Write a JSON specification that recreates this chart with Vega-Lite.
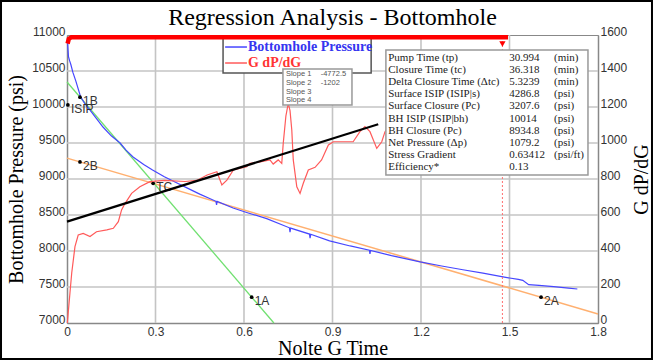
{
  "$schema": "https://vega.github.io/schema/vega-lite/v6.json",
  "width": 531,
  "height": 288,
  "autosize": "none",
  "padding": {"left": 67, "top": 35, "right": 57, "bottom": 38},
  "background": "white",
  "title": {"text": "Regression Analysis - Bottomhole", "font": "Liberation Serif", "fontSize": 24, "fontWeight": "normal", "color": "#000", "anchor": "middle", "frame": "group", "offset": 0, "dy": 30},
  "config": {
    "view": {"stroke": "#888", "strokeWidth": 1},
    "axis": {"labelFont": "Liberation Sans", "labelFontSize": 12, "labelColor": "#333", "titleFont": "Liberation Serif", "titleFontSize": 20, "titleFontWeight": "normal", "titleColor": "#000", "domainColor": "#888", "domainWidth": 1.5, "tickSize": 0, "labelOverlap": false, "labelFlush": false}
  },
  "datasets": {
    "one": [{}],
    "bh": [
      {"G": 0.002, "P": 10890}, {"G": 0.005, "P": 10700}, {"G": 0.009, "P": 10640}, {"G": 0.013, "P": 10590}, {"G": 0.02, "P": 10480}, {"G": 0.03, "P": 10360}, {"G": 0.046, "P": 10143}, {"G": 0.06, "P": 10050}, {"G": 0.078, "P": 9958}, {"G": 0.1, "P": 9840}, {"G": 0.122, "P": 9722}, {"G": 0.15, "P": 9600}, {"G": 0.18, "P": 9500}, {"G": 0.2, "P": 9400}, {"G": 0.224, "P": 9305}, {"G": 0.26, "P": 9200}, {"G": 0.29, "P": 9125}, {"G": 0.33, "P": 9030}, {"G": 0.373, "P": 8944}, {"G": 0.41, "P": 8870}, {"G": 0.45, "P": 8790}, {"G": 0.505, "P": 8690}, {"G": 0.507, "P": 8640}, {"G": 0.509, "P": 8688}, {"G": 0.563, "P": 8597}, {"G": 0.609, "P": 8535}, {"G": 0.677, "P": 8450}, {"G": 0.754, "P": 8322}, {"G": 0.756, "P": 8262}, {"G": 0.758, "P": 8318}, {"G": 0.822, "P": 8235}, {"G": 0.824, "P": 8180}, {"G": 0.826, "P": 8232}, {"G": 0.89, "P": 8140}, {"G": 0.96, "P": 8070}, {"G": 1.025, "P": 8012}, {"G": 1.027, "P": 7960}, {"G": 1.029, "P": 8008}, {"G": 1.1, "P": 7935}, {"G": 1.197, "P": 7850}, {"G": 1.27, "P": 7792}, {"G": 1.342, "P": 7740}, {"G": 1.41, "P": 7692}, {"G": 1.478, "P": 7640}, {"G": 1.53, "P": 7605}, {"G": 1.545, "P": 7592}, {"G": 1.565, "P": 7532}, {"G": 1.6, "P": 7522}, {"G": 1.65, "P": 7505}, {"G": 1.7, "P": 7485}, {"G": 1.73, "P": 7472}
    ],
    "gdp": [
      {"G": 0.001, "V": 0}, {"G": 0.004, "V": 55}, {"G": 0.01, "V": 167}, {"G": 0.016, "V": 278}, {"G": 0.027, "V": 424}, {"G": 0.038, "V": 489}, {"G": 0.055, "V": 498}, {"G": 0.078, "V": 480}, {"G": 0.1, "V": 507}, {"G": 0.135, "V": 517}, {"G": 0.157, "V": 526}, {"G": 0.174, "V": 563}, {"G": 0.185, "V": 628}, {"G": 0.197, "V": 665}, {"G": 0.219, "V": 720}, {"G": 0.247, "V": 757}, {"G": 0.281, "V": 785}, {"G": 0.33, "V": 792}, {"G": 0.4, "V": 786}, {"G": 0.44, "V": 792}, {"G": 0.475, "V": 822}, {"G": 0.508, "V": 840}, {"G": 0.525, "V": 767}, {"G": 0.542, "V": 794}, {"G": 0.564, "V": 850}, {"G": 0.609, "V": 868}, {"G": 0.62, "V": 887}, {"G": 0.655, "V": 895}, {"G": 0.688, "V": 906}, {"G": 0.699, "V": 883}, {"G": 0.716, "V": 906}, {"G": 0.728, "V": 887}, {"G": 0.733, "V": 998}, {"G": 0.742, "V": 1150}, {"G": 0.75, "V": 1220}, {"G": 0.756, "V": 1180}, {"G": 0.762, "V": 1072}, {"G": 0.767, "V": 906}, {"G": 0.779, "V": 757}, {"G": 0.79, "V": 720}, {"G": 0.801, "V": 776}, {"G": 0.818, "V": 850}, {"G": 0.841, "V": 865}, {"G": 0.863, "V": 906}, {"G": 0.886, "V": 989}, {"G": 0.903, "V": 1007}, {"G": 0.948, "V": 1007}, {"G": 0.97, "V": 1007}, {"G": 0.993, "V": 1063}, {"G": 1.01, "V": 1091}, {"G": 1.027, "V": 1063}, {"G": 1.05, "V": 970}, {"G": 1.067, "V": 1007}, {"G": 1.078, "V": 1063}, {"G": 1.1, "V": 1110}, {"G": 1.15, "V": 1130}, {"G": 1.2, "V": 1120}
    ],
    "orange": [{"G": 0, "P": 9290}, {"G": 1.8, "P": 7126}],
    "green": [{"G": 0, "P": 10347}, {"G": 0.7013, "P": 7000}],
    "black": [{"G": 0, "V": 563}, {"G": 1.055, "V": 1104}],
    "pts": [
      {"G": 0.044, "P": 10137, "label": "1B"}, {"G": 0.003, "P": 10028, "label": "ISIP"}, {"G": 0.044, "P": 9237, "label": "2B"}, {"G": 0.292, "P": 8940, "label": "TC"}, {"G": 0.626, "P": 7359, "label": "1A"}, {"G": 1.607, "P": 7359, "label": "2A"}
    ],
    "band": [{"G": 0.002, "P": 10880}, {"G": 0.006, "P": 10945}, {"G": 0.015, "P": 10970}, {"G": 1.495, "P": 10970}],
    "table": [
      {"row": 0, "label": "Pump Time (tp)", "value": "30.994", "unit": "(min)"},
      {"row": 1, "label": "Closure Time (tc)", "value": "36.318", "unit": "(min)"},
      {"row": 2, "label": "Delta Closure Time (Δtc)", "value": "5.3239", "unit": "(min)"},
      {"row": 3, "label": "Surface ISIP (ISIP|s)", "value": "4286.8", "unit": "(psi)"},
      {"row": 4, "label": "Surface Closure (Pc)", "value": "3207.6", "unit": "(psi)"},
      {"row": 5, "label": "BH ISIP (ISIP|bh)", "value": "10014", "unit": "(psi)"},
      {"row": 6, "label": "BH Closure (Pc)", "value": "8934.8", "unit": "(psi)"},
      {"row": 7, "label": "Net Pressure (Δp)", "value": "1079.2", "unit": "(psi)"},
      {"row": 8, "label": "Stress Gradient", "value": "0.63412", "unit": "(psi/ft)"},
      {"row": 9, "label": "Efficiency*", "value": "0.13", "unit": ""}
    ],
    "slopes": [
      {"row": 0, "label": "Slope 1", "value": "-4772.5"},
      {"row": 1, "label": "Slope 2", "value": "-1202"},
      {"row": 2, "label": "Slope 3", "value": ""},
      {"row": 3, "label": "Slope 4", "value": ""}
    ]
  },
  "layer": [
    {
      "data": {"name": "one"},
      "layer": [
        {"mark": {"type": "rule", "color": "#c4c4c4", "strokeWidth": 1.6}, "encoding": {"x": {"datum": 0.3}, "y": {"datum": 7000, "scale": {"domain": [7000, 11000], "nice": false, "zero": false}, "axis": null}, "y2": {"datum": 11000}}},
        {"mark": {"type": "rule", "color": "#c4c4c4", "strokeWidth": 1.6}, "encoding": {"x": {"datum": 0.6}, "y": {"datum": 7000}, "y2": {"datum": 11000}}},
        {"mark": {"type": "rule", "color": "#c4c4c4", "strokeWidth": 1.6}, "encoding": {"x": {"datum": 0.9}, "y": {"datum": 7000}, "y2": {"datum": 11000}}},
        {"mark": {"type": "rule", "color": "#c4c4c4", "strokeWidth": 1.6}, "encoding": {"x": {"datum": 1.2}, "y": {"datum": 7000}, "y2": {"datum": 11000}}},
        {"mark": {"type": "rule", "color": "#c4c4c4", "strokeWidth": 1.6}, "encoding": {"x": {"datum": 1.5}, "y": {"datum": 7000}, "y2": {"datum": 11000}}},
        {"mark": {"type": "rule", "color": "#c4c4c4", "strokeWidth": 1.6}, "encoding": {"y": {"datum": 7500}, "x": {"datum": 0}, "x2": {"datum": 1.8}}},
        {"mark": {"type": "rule", "color": "#c4c4c4", "strokeWidth": 1.6}, "encoding": {"y": {"datum": 8000}, "x": {"datum": 0}, "x2": {"datum": 1.8}}},
        {"mark": {"type": "rule", "color": "#c4c4c4", "strokeWidth": 1.6}, "encoding": {"y": {"datum": 8500}, "x": {"datum": 0}, "x2": {"datum": 1.8}}},
        {"mark": {"type": "rule", "color": "#c4c4c4", "strokeWidth": 1.6}, "encoding": {"y": {"datum": 9000}, "x": {"datum": 0}, "x2": {"datum": 1.8}}},
        {"mark": {"type": "rule", "color": "#c4c4c4", "strokeWidth": 1.6}, "encoding": {"y": {"datum": 9500}, "x": {"datum": 0}, "x2": {"datum": 1.8}}},
        {"mark": {"type": "rule", "color": "#c4c4c4", "strokeWidth": 1.6}, "encoding": {"y": {"datum": 10000}, "x": {"datum": 0}, "x2": {"datum": 1.8}}},
        {"mark": {"type": "rule", "color": "#c4c4c4", "strokeWidth": 1.6}, "encoding": {"y": {"datum": 10500}, "x": {"datum": 0}, "x2": {"datum": 1.8}}}
      ]
    },
    {
      "layer": [
        {
          "data": {"name": "orange"},
          "mark": {"type": "line", "color": "#ffb070", "strokeWidth": 1.5},
          "encoding": {
            "x": {"field": "G", "type": "quantitative", "scale": {"domain": [0, 1.8], "nice": false, "zero": false}, "axis": {"values": [0, 0.3, 0.6, 0.9, 1.2, 1.5, 1.8], "format": "~g", "title": "Nolte G Time", "grid": false, "labelPadding": 3, "titlePadding": 1, "labelOverlap": false}},
            "y": {"field": "P", "type": "quantitative", "scale": {"domain": [7000, 11000], "nice": false, "zero": false}, "axis": {"orient": "left", "values": [7000, 7500, 8000, 8500, 9000, 9500, 10000, 10500, 11000], "tickCount": 9, "format": "d", "title": "Bottomhole Pressure (psi)", "grid": false, "labelPadding": 2, "labelBaseline": "alphabetic", "titlePadding": 5, "labelOverlap": false}}
          }
        },
        {
          "data": {"name": "green"},
          "mark": {"type": "line", "color": "#70e070", "strokeWidth": 1.3},
          "encoding": {"x": {"field": "G", "type": "quantitative"}, "y": {"field": "P", "type": "quantitative"}}
        },
        {
          "data": {"name": "bh"},
          "mark": {"type": "line", "color": "#4646ff", "strokeWidth": 1.2},
          "encoding": {"x": {"field": "G", "type": "quantitative"}, "y": {"field": "P", "type": "quantitative"}}
        },
        {
          "data": {"name": "pts"},
          "mark": {"type": "point", "filled": true, "color": "#000", "size": 14, "opacity": 1},
          "encoding": {"x": {"field": "G", "type": "quantitative"}, "y": {"field": "P", "type": "quantitative"}}
        },
        {
          "data": {"name": "pts"},
          "mark": {"type": "text", "align": "left", "baseline": "middle", "dx": 3, "dy": 4, "font": "Liberation Sans", "fontSize": 12, "color": "#333"},
          "encoding": {"x": {"field": "G", "type": "quantitative"}, "y": {"field": "P", "type": "quantitative"}, "text": {"field": "label"}}
        }
      ]
    },
    {
      "layer": [
        {
          "data": {"name": "gdp"},
          "mark": {"type": "line", "color": "#ff5a5a", "strokeWidth": 1.2},
          "encoding": {
            "x": {"field": "G", "type": "quantitative"},
            "y": {"field": "V", "type": "quantitative", "scale": {"domain": [0, 1600], "nice": false, "zero": false}, "axis": {"orient": "right", "values": [0, 200, 400, 600, 800, 1000, 1200, 1400, 1600], "tickCount": 9, "format": "d", "title": "G dP/dG", "grid": false, "labelPadding": 2, "labelBaseline": "alphabetic", "titleAngle": 270, "titleBaseline": "top", "titlePadding": 5, "labelOverlap": false}}
          }
        },
        {
          "data": {"name": "black"},
          "mark": {"type": "line", "color": "#000", "strokeWidth": 2.2},
          "encoding": {"x": {"field": "G", "type": "quantitative"}, "y": {"field": "V", "type": "quantitative"}}
        },
        {
          "data": {"name": "one"},
          "mark": {"type": "rule", "color": "#ff7070", "strokeWidth": 1, "strokeDash": [2, 2]},
          "encoding": {"x": {"datum": 1.476}, "y": {"datum": 0}, "y2": {"datum": 1600}}
        }
      ]
    },
    {
      "data": {"name": "one"},
      "layer": [
        {
          "mark": {"type": "rect", "fill": "white", "stroke": "#555", "strokeWidth": 1.5},
          "encoding": {"x": {"datum": 0.529}, "x2": {"datum": 1.031}, "y": {"datum": 10958, "scale": {"domain": [7000, 11000], "nice": false, "zero": false}, "axis": null}, "y2": {"datum": 10472}}
        },
        {
          "mark": {"type": "rule", "color": "#4646ff", "strokeWidth": 1.5},
          "encoding": {"x": {"datum": 0.536}, "x2": {"datum": 0.61}, "y": {"datum": 10833}}
        },
        {
          "mark": {"type": "rule", "color": "#ff5a5a", "strokeWidth": 1.5},
          "encoding": {"x": {"datum": 0.536}, "x2": {"datum": 0.61}, "y": {"datum": 10611}}
        },
        {
          "mark": {"type": "text", "align": "left", "baseline": "middle", "font": "Liberation Serif", "fontSize": 14, "fontWeight": "bold", "color": "#3535f0", "dx": 1},
          "encoding": {"x": {"datum": 0.61}, "y": {"datum": 10833}, "text": {"value": "Bottomhole Pressure"}}
        },
        {
          "mark": {"type": "text", "align": "left", "baseline": "middle", "font": "Liberation Serif", "fontSize": 14, "fontWeight": "bold", "color": "#ff3333", "dx": 1},
          "encoding": {"x": {"datum": 0.61}, "y": {"datum": 10611}, "text": {"value": "G dP/dG"}}
        },
        {
          "mark": {"type": "rect", "fill": "white", "stroke": "#999", "strokeWidth": 1.5},
          "encoding": {"x": {"datum": 0.732}, "x2": {"datum": 0.966}, "y": {"datum": 10528}, "y2": {"datum": 10028}}
        },
        {
          "mark": {"type": "rect", "fill": "white", "stroke": "#999", "strokeWidth": 1.5},
          "encoding": {"x": {"datum": 1.081}, "x2": {"datum": 1.766}, "y": {"datum": 10792}, "y2": {"datum": 9055}}
        },
        {
          "data": {"name": "band"},
          "mark": {"type": "line", "color": "#ff0000", "strokeWidth": 4.5},
          "encoding": {"x": {"field": "G", "type": "quantitative"}, "y": {"field": "P", "type": "quantitative"}}
        },
        {
          "mark": {"type": "point", "shape": "triangle-down", "filled": true, "color": "#ff0000", "size": 40, "opacity": 1},
          "encoding": {"x": {"datum": 1.476}, "y": {"datum": 10875}}
        },
        {
          "mark": {"type": "rect", "fill": null, "stroke": "#000", "strokeWidth": 2, "clip": false},
          "encoding": {"x": {"datum": -0.2237}, "x2": {"datum": 1.983}, "y": {"datum": 11472}, "y2": {"datum": 6500}}
        }
      ]
    },
    {
      "data": {"name": "table"},
      "encoding": {
        "y": {"field": "row", "type": "quantitative", "scale": {"domain": [-1.934, 21.97], "reverse": true, "nice": false, "zero": false}, "axis": null}
      },
      "layer": [
        {
          "mark": {"type": "text", "align": "left", "baseline": "middle", "font": "Liberation Serif", "fontSize": 11, "color": "#222"},
          "encoding": {"x": {"datum": 1.089}, "text": {"field": "label"}}
        },
        {
          "mark": {"type": "text", "align": "left", "baseline": "middle", "font": "Liberation Serif", "fontSize": 11, "color": "#222"},
          "encoding": {"x": {"datum": 1.4995}, "text": {"field": "value"}}
        },
        {
          "mark": {"type": "text", "align": "left", "baseline": "middle", "font": "Liberation Serif", "fontSize": 11, "color": "#222"},
          "encoding": {"x": {"datum": 1.651}, "text": {"field": "unit"}}
        }
      ]
    },
    {
      "data": {"name": "slopes"},
      "encoding": {
        "y": {"field": "row", "type": "quantitative", "scale": {"domain": [-4.57, 28.9], "reverse": true, "nice": false, "zero": false}, "axis": null}
      },
      "layer": [
        {
          "mark": {"type": "text", "align": "left", "baseline": "middle", "font": "Liberation Sans", "fontSize": 7.5, "color": "#555"},
          "encoding": {"x": {"datum": 0.742}, "text": {"field": "label"}}
        },
        {
          "mark": {"type": "text", "align": "left", "baseline": "middle", "font": "Liberation Sans", "fontSize": 7.5, "color": "#555"},
          "encoding": {"x": {"datum": 0.86}, "text": {"field": "value"}}
        }
      ]
    }
  ],
  "resolve": {"scale": {"y": "independent"}}
}
